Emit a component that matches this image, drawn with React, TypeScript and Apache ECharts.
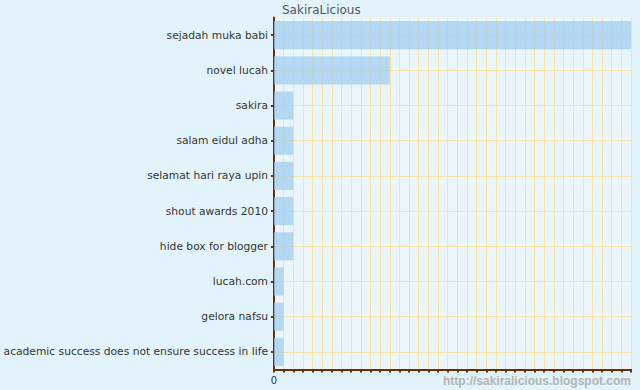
import React, { useEffect, useRef } from "react";
import * as echarts from "echarts";

const categories = [
  "sejadah muka babi",
  "novel lucah",
  "sakira",
  "salam eidul adha",
  "selamat hari raya upin",
  "shout awards 2010",
  "hide box for blogger",
  "lucah.com",
  "gelora nafsu",
  "academic success does not ensure success in life",
];
const values = [37, 12, 2, 2, 2, 2, 2, 1, 1, 1];
const halfSteps = Array.from({ length: 20 }, (_, i) => String(i));
const title = "SakiraLicious";
const watermark = "http://sakiralicious.blogspot.com";

export default function App() {
  const ref = useRef<HTMLDivElement>(null);
  useEffect(() => {
    document.body.style.margin = "0";
    const chart = echarts.init(ref.current!, null, { renderer: "svg" });
    const brown = "#6b2f08";
    chart.setOption({
      animation: false,
      backgroundColor: "#e3f3fb",
      title: {
        text: title,
        left: 277,
        top: -1,
        textStyle: { fontFamily: "DejaVu Sans", fontSize: 12, fontWeight: "normal", color: "#555" },
      },
      grid: {
        left: 274,
        right: 9,
        top: 17.5,
        bottom: 20.5,
        show: true,
        backgroundColor: "#eaf6fc",
        borderWidth: 0,
        containLabel: false,
        outerBoundsMode: "none",
      },
      xAxis: {
        type: "value",
        min: 0,
        max: 37,
        interval: 1,
        axisLine: { show: true, lineStyle: { color: brown, width: 2 } },
        axisTick: { show: true, length: 3, lineStyle: { color: brown, width: 2 } },
        axisLabel: {
          formatter: (v: number) => (v === 0 ? "0" : ""),
          fontFamily: "DejaVu Sans",
          fontSize: 10,
          color: "#333",
          margin: 6,
        },
        splitLine: { show: true, lineStyle: { color: "#f6e2a6", width: 1 } },
      },
      yAxis: [
        {
          type: "category",
          data: categories,
          inverse: true,
          axisLine: { show: true, lineStyle: { color: brown, width: 2 } },
          axisTick: { show: true, length: 3, alignWithLabel: true, lineStyle: { color: brown, width: 2 } },
          axisLabel: {
            fontFamily: "DejaVu Sans",
            fontSize: 10.7,
            color: "#333",
            margin: 6,
          },
          splitLine: { show: false },
        },
        {
          type: "category",
          data: halfSteps,
          inverse: true,
          position: "right",
          axisLine: { show: false },
          axisTick: { show: false },
          axisLabel: { show: false },
          splitLine: {
            show: true,
            interval: (i: number) => i % 2 === 1,
            lineStyle: { color: "#f6e2a6", width: 1 },
          },
        },
      ],
      series: [
        {
          type: "bar",
          yAxisIndex: 0,
          data: values,
          barCategoryGap: "20%",
          itemStyle: { color: "rgba(163,206,239,0.75)" },
        },
      ],
      graphic: [
        {
          type: "text",
          right: 9,
          top: 375,
          style: {
            text: watermark,
            fontFamily: "Liberation Sans",
            fontWeight: "bold",
            fontSize: 12,
            fill: "#b3b3b3",
          },
        },
      ],
    });
    return () => chart.dispose();
  }, []);
  return <div ref={ref} style={{ width: 640, height: 390 }} />;
}
